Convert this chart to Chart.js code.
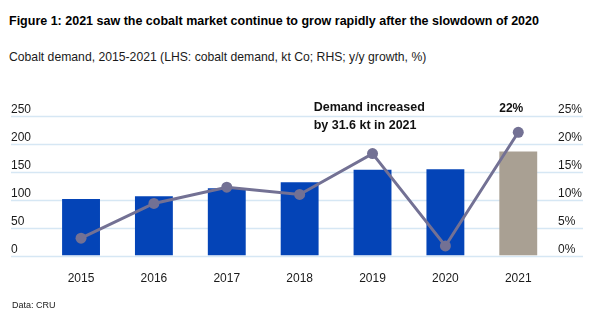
<!DOCTYPE html>
<html>
<head>
<meta charset="utf-8">
<script src="https://cdn.jsdelivr.net/npm/chart.js@4/dist/chart.umd.min.js"></script>
<style>
  html, body { margin: 0; padding: 0; background: #ffffff; }
  #wrap { position: relative; width: 600px; height: 326px; overflow: hidden;
          font-family: "Liberation Sans", Arial, Helvetica, sans-serif; color: #111; }
  #title { position: absolute; left: 9px; top: 14px; font-size: 12.5px; font-weight: bold;
           line-height: 15px; white-space: nowrap; color: #000; }
  #subtitle { position: absolute; left: 9px; top: 50px; font-size: 12.2px;
              line-height: 15px; white-space: nowrap; color: #1a1a1a; }
  #source { position: absolute; left: 12px; top: 299px; font-size: 9px;
            line-height: 12px; white-space: nowrap; color: #1a1a1a; }
  canvas { position: absolute; left: 0; top: 0; }
</style>
</head>
<body>
<div id="wrap">
  <div id="title">Figure 1: 2021 saw the cobalt market continue to grow rapidly after the slowdown of 2020</div>
  <div id="subtitle">Cobalt demand, 2015-2021 (LHS: cobalt demand, kt Co; RHS; y/y growth, %)</div>
  <canvas id="chart" width="600" height="326"></canvas>
  <div id="source">Data: CRU</div>
</div>
<script>
// Cobalt demand by year (kt Co) and year-on-year growth (%)
const years = ['2015', '2016', '2017', '2018', '2019', '2020', '2021'];
const demandKt = [101, 106, 120, 131, 153, 154, 185.6];
const growthPct = [3.1, 9.3, 12.2, 10.9, 18.2, 1.7, 22];
const demandTicks = [0, 50, 100, 150, 200, 250];
const growthTicks = [0, 5, 10, 15, 20, 25];

const BLUE = '#0444b7';
const TAUPE = '#a9a093';
const LINE = '#737194';
const GRID = '#d6e7f4';
const TEXT = '#1a1a1a';
const FONT = '"Liberation Sans", Arial, Helvetica, sans-serif';

const lastIdx = years.length - 1;

// Horizontal guide lines spanning both value axes
const guideLines = {
  id: 'guideLines',
  beforeDatasetsDraw(chart) {
    const { ctx, scales } = chart;
    const y = scales.y;
    const left = y.left;
    const right = scales.y1.right;
    ctx.save();
    ctx.strokeStyle = GRID;
    ctx.lineWidth = 1.6;
    demandTicks.forEach(v => {
      const py = Math.round(y.getPixelForValue(v)) + 0.5;
      ctx.beginPath();
      ctx.moveTo(left, py);
      ctx.lineTo(right, py);
      ctx.stroke();
    });
    ctx.restore();
  }
};

// Callout text: latest growth rate and the latest annual increase
const callouts = {
  id: 'callouts',
  afterDatasetsDraw(chart) {
    const { ctx } = chart;
    const pt = chart.getDatasetMeta(0).data[lastIdx];
    ctx.save();
    ctx.fillStyle = '#111';
    ctx.textBaseline = 'middle';
    ctx.font = 'bold 12px ' + FONT;
    ctx.textAlign = 'center';
    ctx.fillText(growthPct[lastIdx] + '%', pt.x - 7, pt.y - 24);

    const increase = (demandKt[lastIdx] - demandKt[lastIdx - 1]).toFixed(1);
    const x = chart.scales.x;
    const tx = x.getPixelForValue(lastIdx - 3) + 14;
    ctx.textAlign = 'left';
    ctx.font = 'bold 12.5px ' + FONT;
    ctx.fillText('Demand increased', tx, 107.5);
    ctx.fillText('by ' + increase + ' kt in ' + years[lastIdx], tx, 126);
    ctx.restore();
  }
};

new Chart(document.getElementById('chart'), {
  data: {
    labels: years,
    datasets: [
      {
        type: 'line',
        label: 'y/y growth',
        data: growthPct,
        yAxisID: 'y1',
        order: 1,
        borderColor: LINE,
        backgroundColor: LINE,
        borderWidth: 3,
        pointRadius: 5.5,
        pointBackgroundColor: LINE,
        pointBorderWidth: 0,
        tension: 0
      },
      {
        type: 'bar',
        label: 'Cobalt demand',
        data: demandKt,
        yAxisID: 'y',
        order: 2,
        backgroundColor: ctx => (ctx.dataIndex === lastIdx ? TAUPE : BLUE),
        barPercentage: 0.52,
        categoryPercentage: 1
      }
    ]
  },
  options: {
    responsive: false,
    animation: false,
    events: [],
    layout: { padding: { left: 11, right: 17, top: 115.5, bottom: 30.5 } },
    plugins: {
      legend: { display: false },
      tooltip: { enabled: false },
      title: { display: false }
    },
    scales: {
      x: {
        grid: { display: false, drawTicks: false },
        border: { display: false },
        ticks: { color: TEXT, font: { family: FONT, size: 12 }, padding: 16 },
        afterFit(s) { s.height = 40; }
      },
      y: {
        position: 'left',
        min: 0,
        max: 250,
        afterBuildTicks(s) { s.ticks = demandTicks.map(v => ({ value: v })); },
        grid: { display: false, drawTicks: false },
        border: { display: false },
        ticks: { color: TEXT, font: { family: FONT, size: 12 }, padding: 0,
                 crossAlign: 'far', labelOffset: -5.5 },
        afterFit(s) { s.width = 33.6; }
      },
      y1: {
        position: 'right',
        min: 0,
        max: 25,
        afterBuildTicks(s) { s.ticks = growthTicks.map(v => ({ value: v })); },
        grid: { display: false, drawTicks: false },
        border: { display: false },
        ticks: { color: TEXT, font: { family: FONT, size: 12 }, padding: 3.3,
                 labelOffset: -5.5, callback: v => v + '%' },
        afterFit(s) { s.width = 28.3; }
      }
    }
  },
  plugins: [guideLines, callouts]
});
</script>
</body>
</html>
